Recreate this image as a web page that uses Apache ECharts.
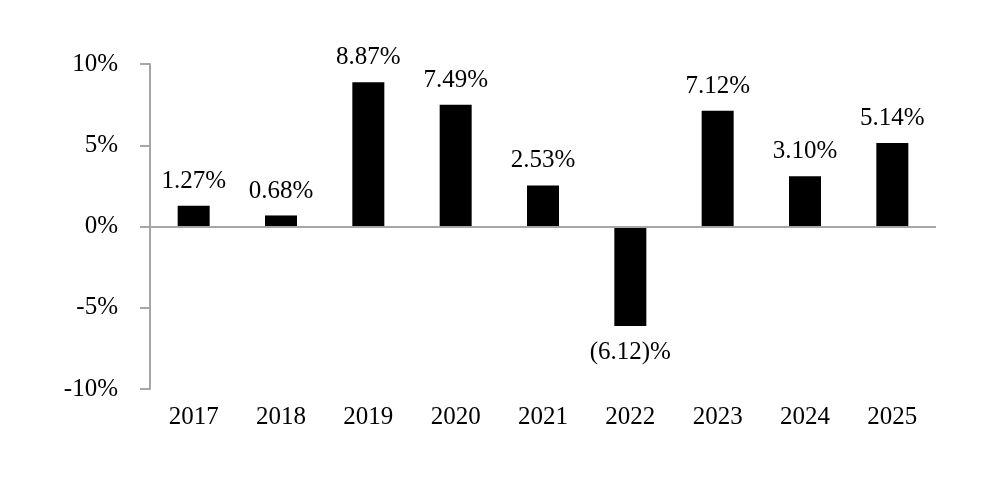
<!DOCTYPE html>
<html>
<head>
<meta charset="utf-8">
<script src="https://cdn.jsdelivr.net/npm/echarts@6/dist/echarts.min.js"></script>
<style>
html,body{margin:0;padding:0;background:#fff;}
#main{width:1000px;height:500px;}
</style>
</head>
<body>
<div id="main"></div>
<script>
const years=['2017','2018','2019','2020','2021','2022','2023','2024','2025'];
const returns=[1.27,0.68,8.87,7.49,2.53,-6.12,7.12,3.10,5.14];
const yTicks=[-10,-5,0,5,10];

const font='"Liberation Serif", "Times New Roman", serif';
const axisGray='#a6a6a6';

let option={
    animation:false,
    backgroundColor:'#fff',
    grid:{left:150,right:64,top:64,bottom:111},
    xAxis:{
        type:'category',
        data:years,
        axisLine:{show:false,onZero:false},
        axisTick:{show:false},
        axisLabel:{color:'#000',fontFamily:font,fontSize:25,margin:16}
    },
    yAxis:{
        type:'value',
        min:yTicks[0],
        max:yTicks[yTicks.length-1],
        interval:5,
        splitLine:{show:false},
        axisLine:{show:true,lineStyle:{color:axisGray,width:2}},
        axisTick:{show:true,inside:false,length:10,lineStyle:{color:axisGray,width:2}},
        axisLabel:{
            color:'#000',fontFamily:font,fontSize:25,margin:32,
            formatter:function(v){return v+'%';}
        }
    },
    series:[{
        type:'bar',
        data:returns.map(function(v){
            return {
                value:v,
                label:{position:v<0?'bottom':'top',distance:v<0?14:12}
            };
        }),
        barWidth:32,
        itemStyle:{color:'#000'},
        label:{
            show:true,
            color:'#000',
            fontFamily:font,
            fontSize:25,
            formatter:function(p){
                let v=p.value;
                return v<0?'('+Math.abs(v).toFixed(2)+')%':v.toFixed(2)+'%';
            }
        },
        markLine:{
            silent:true,
            symbol:'none',
            label:{show:false},
            lineStyle:{color:axisGray,width:2,type:'solid'},
            data:[{yAxis:0}]
        },
        z:3
    }]
};

let myChart=echarts.init(document.getElementById('main'));
myChart.setOption(option);
</script>
</body>
</html>
